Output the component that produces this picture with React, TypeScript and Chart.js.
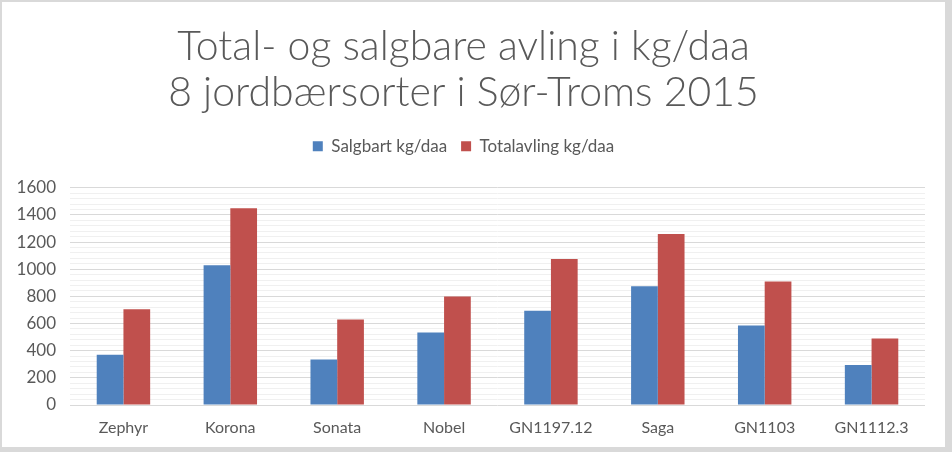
import React, { useEffect, useRef } from "react";
import { Chart, registerables } from "chart.js";

Chart.register(...registerables);

const categories = ["Zephyr", "Korona", "Sonata", "Nobel", "GN1197.12", "Saga", "GN1103", "GN1112.3"];
const salgbart = [370, 1030, 335, 535, 695, 875, 585, 295];
const totalavling = [705, 1450, 630, 800, 1075, 1260, 910, 490];
const titleLines = ["Total- og salgbare avling i kg/daa", "8 jordbærsorter i Sør-Troms 2015"];
const seriesNames = ["Salgbart kg/daa", "Totalavling kg/daa"];

const legendSpacer = {
  id: "legendSpacer",
  beforeInit(chart: any) {
    const lg = chart.legend;
    if (!lg) return;
    const orig = lg.fit;
    lg.fit = function () {
      orig.call(this);
      this.height += 23;
    };
  },
};

export default function App() {
  const ref = useRef<HTMLCanvasElement | null>(null);
  useEffect(() => {
    document.body.style.margin = "0";
    const ctx = ref.current!;
    const chart = new Chart(ctx, {
      type: "bar",
      plugins: [legendSpacer],
      data: {
        labels: categories,
        datasets: [
          { label: seriesNames[0], data: salgbart, backgroundColor: "#4F81BD", barPercentage: 1.0, categoryPercentage: 0.5 },
          { label: seriesNames[1], data: totalavling, backgroundColor: "#C0504D", barPercentage: 1.0, categoryPercentage: 0.5 },
        ],
      },
      options: {
        animation: false,
        responsive: false,
        maintainAspectRatio: false,
        layout: { padding: { left: 0, right: 20, top: 0, bottom: 0 } },
        plugins: {
          title: {
            display: true,
            text: titleLines,
            color: "#595959",
            font: { family: "Lato", size: 41, weight: "300" as any, lineHeight: 1.12 },
            padding: { top: 22, bottom: 8 },
          },
          legend: {
            display: true,
            position: "top",
            labels: {
              color: "#595959",
              font: { family: "Lato", size: 17 },
              boxWidth: 10,
              boxHeight: 10,
              padding: 14,
            },
          },
          tooltip: { enabled: false },
        },
        scales: {
          x: {
            grid: { display: false, drawTicks: false },
            border: { display: false },
            ticks: { color: "#595959", font: { family: "Lato", size: 16 }, padding: 13 },
            afterFit: (s: any) => { s.height = 42; },
          },
          y: {
            min: 0,
            max: 1600,
            border: { display: false },
            grid: {
              drawTicks: false,
              color: (c: any) => (c.tick && c.tick.value % 200 === 0 ? "#D9D9D9" : "#F0F0F0"),
            },
            ticks: {
              stepSize: 40,
              autoSkip: false,
              color: "#595959",
              font: { family: "Lato", size: 17 },
              padding: 14,
              callback: (v: any) => (Number(v) % 200 === 0 ? String(v) : ""),
            },
            afterFit: (s: any) => { s.width = 68; },
          },
        },
      },
    });
    return () => chart.destroy();
  }, []);
  return (
    <div style={{ position: "relative", width: 952, height: 452, background: "#D9D9D9" }}>
      <div style={{ position: "absolute", left: 2, top: 2, width: 943, height: 445, background: "#FFFFFF" }}>
        <canvas ref={ref} width={943} height={445} style={{ display: "block" }} />
      </div>
    </div>
  );
}
